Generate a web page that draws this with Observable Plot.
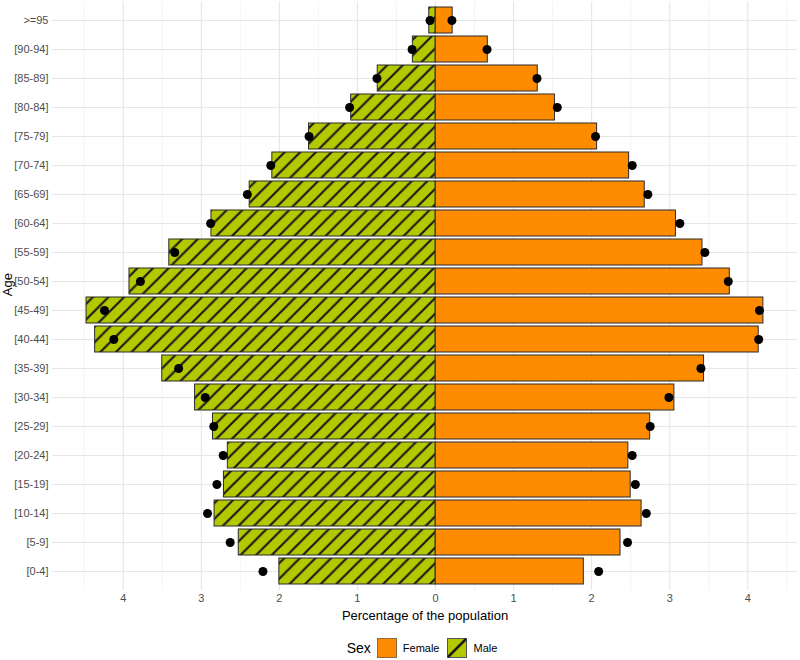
<!DOCTYPE html>
<html>
<head>
<meta charset="utf-8">
<script src="https://cdn.jsdelivr.net/npm/d3@7"></script>
<script src="https://cdn.jsdelivr.net/npm/@observablehq/plot@0.6"></script>
<style>
  body { margin: 0; background: white; font-family: "Liberation Sans", Arial, sans-serif; }
  #wrap { width: 800px; }
  #legend { display: flex; align-items: center; justify-content: center; padding-left: 52px; box-sizing: border-box; width: 800px; margin-top: 13px; height: 20px; }
  #legend .title { font-size: 14px; color: #000; margin-right: 6px; }
  #legend .lab { font-size: 11px; color: #000; margin: 0 8px 0 6px; }
</style>
</head>
<body>
<div id="wrap"></div>
<script>
// Age groups, bottom to top
const ages = ["[0-4]","[5-9]","[10-14]","[15-19]","[20-24]","[25-29]","[30-34]","[35-39]","[40-44]","[45-49]",
              "[50-54]","[55-59]","[60-64]","[65-69]","[70-74]","[75-79]","[80-84]","[85-89]","[90-94]",">=95"];
// Bar values (percentage of population)
const maleBar   = [2.00, 2.52, 2.83, 2.71, 2.66, 2.85, 3.08, 3.50, 4.36, 4.47, 3.92, 3.41, 2.87, 2.38, 2.09, 1.62, 1.08, 0.74, 0.29, 0.08];
const femaleBar = [1.90, 2.37, 2.64, 2.50, 2.47, 2.75, 3.06, 3.44, 4.14, 4.20, 3.77, 3.42, 3.08, 2.68, 2.48, 2.07, 1.53, 1.31, 0.67, 0.22];
// Point values
const maleDot   = [2.21, 2.63, 2.92, 2.80, 2.72, 2.84, 2.95, 3.29, 4.12, 4.24, 3.78, 3.34, 2.88, 2.41, 2.11, 1.62, 1.10, 0.75, 0.30, 0.07];
const femaleDot = [2.09, 2.46, 2.70, 2.56, 2.52, 2.75, 2.99, 3.40, 4.14, 4.15, 3.75, 3.45, 3.13, 2.72, 2.52, 2.05, 1.56, 1.30, 0.66, 0.21];
const xTicks = [-4, -3, -2, -1, 0, 1, 2, 3, 4];
const xMinor = [-4.5, -3.5, -2.5, -1.5, -0.5, 0.5, 1.5, 2.5, 3.5, 4.5];

const FEMALE = "#ff8c00";
const MALE = "#b4c800";

const data = ages.map((age, i) => ({
  age, male: maleBar[i], female: femaleBar[i], maleDot: maleDot[i], femaleDot: femaleDot[i]
}));
const agesTop = ages.slice().reverse();

const chart = Plot.plot({
  width: 800,
  height: 625,
  marginLeft: 52,
  marginRight: 3,
  marginTop: 1.5,
  marginBottom: 35,
  style: { fontFamily: "'Liberation Sans', Arial, sans-serif", fontSize: "11px", background: "white", overflow: "visible" },
  x: { domain: [-4.906, 4.637] },
  y: { domain: agesTop, paddingInner: 0.1, paddingOuter: 0.15 },
  marks: [
    Plot.gridX(xMinor, { stroke: "#ededed", strokeOpacity: 1, strokeWidth: 0.6 }),
    Plot.gridX(xTicks, { stroke: "#e6e6e6", strokeOpacity: 1, strokeWidth: 1.1 }),
    Plot.gridY(agesTop, { stroke: "#e6e6e6", strokeOpacity: 1, strokeWidth: 1.1 }),
    Plot.axisX(xTicks, { tickSize: 0, tickPadding: 4, tickFormat: d => Math.abs(d), label: null, fill: "#4d4d4d", fontSize: 11 }),
    Plot.axisY({ tickSize: 0, tickPadding: 4, label: null, fill: "#4d4d4d", fontSize: 11 }),
    Plot.barX(data, { x1: 0, x2: d => d.female, y: "age", fill: FEMALE, stroke: "#2b2b2b", strokeWidth: 1 }),
    Plot.barX(data, { x1: 0, x2: d => -d.male, y: "age", fill: "url(#maleHatch)", stroke: "#2b2b2b", strokeWidth: 1 }),
    Plot.dot(data, { x: d => d.femaleDot, y: "age", r: 4.5, fill: "black", stroke: null }),
    Plot.dot(data, { x: d => -d.maleDot, y: "age", r: 4.5, fill: "black", stroke: null }),
    Plot.text(["Percentage of the population"], { text: d => d, frameAnchor: "bottom", dy: 29, fontSize: 13, fill: "black" }),
    Plot.text(["Age"], { text: d => d, frameAnchor: "left", dx: -45, rotate: -90, fontSize: 13, fill: "black" })
  ]
});

const ns = "http://www.w3.org/2000/svg";
const defs = document.createElementNS(ns, "defs");
const s = 15.6;
defs.innerHTML = `<pattern id="maleHatch" patternUnits="userSpaceOnUse" width="${s}" height="${s}">
  <rect width="${s}" height="${s}" fill="${MALE}"/>
  <path d="M0,${s} L${s},0 M-2,2 L2,-2 M${s-2},${s+2} L${s+2},${s-2}" stroke="#1a1a1a" stroke-width="2.2"/>
</pattern>`;
chart.insertBefore(defs, chart.firstChild);

const wrap = document.getElementById("wrap");
wrap.appendChild(chart);

const legend = document.createElement("div");
legend.id = "legend";
legend.innerHTML = `
  <span class="title">Sex</span>
  <svg width="20" height="20"><rect x="0.5" y="0.5" width="19" height="19" fill="${FEMALE}" stroke="#8c6a3a" stroke-width="1"/></svg>
  <span class="lab">Female</span>
  <svg width="20" height="20"><rect x="0.5" y="0.5" width="19" height="19" fill="${MALE}" stroke="#555" stroke-width="1"/>
    <line x1="1" y1="19" x2="19" y2="1" stroke="#1a1a1a" stroke-width="2.5"/></svg>
  <span class="lab">Male</span>`;
wrap.appendChild(legend);
</script>
</body>
</html>
